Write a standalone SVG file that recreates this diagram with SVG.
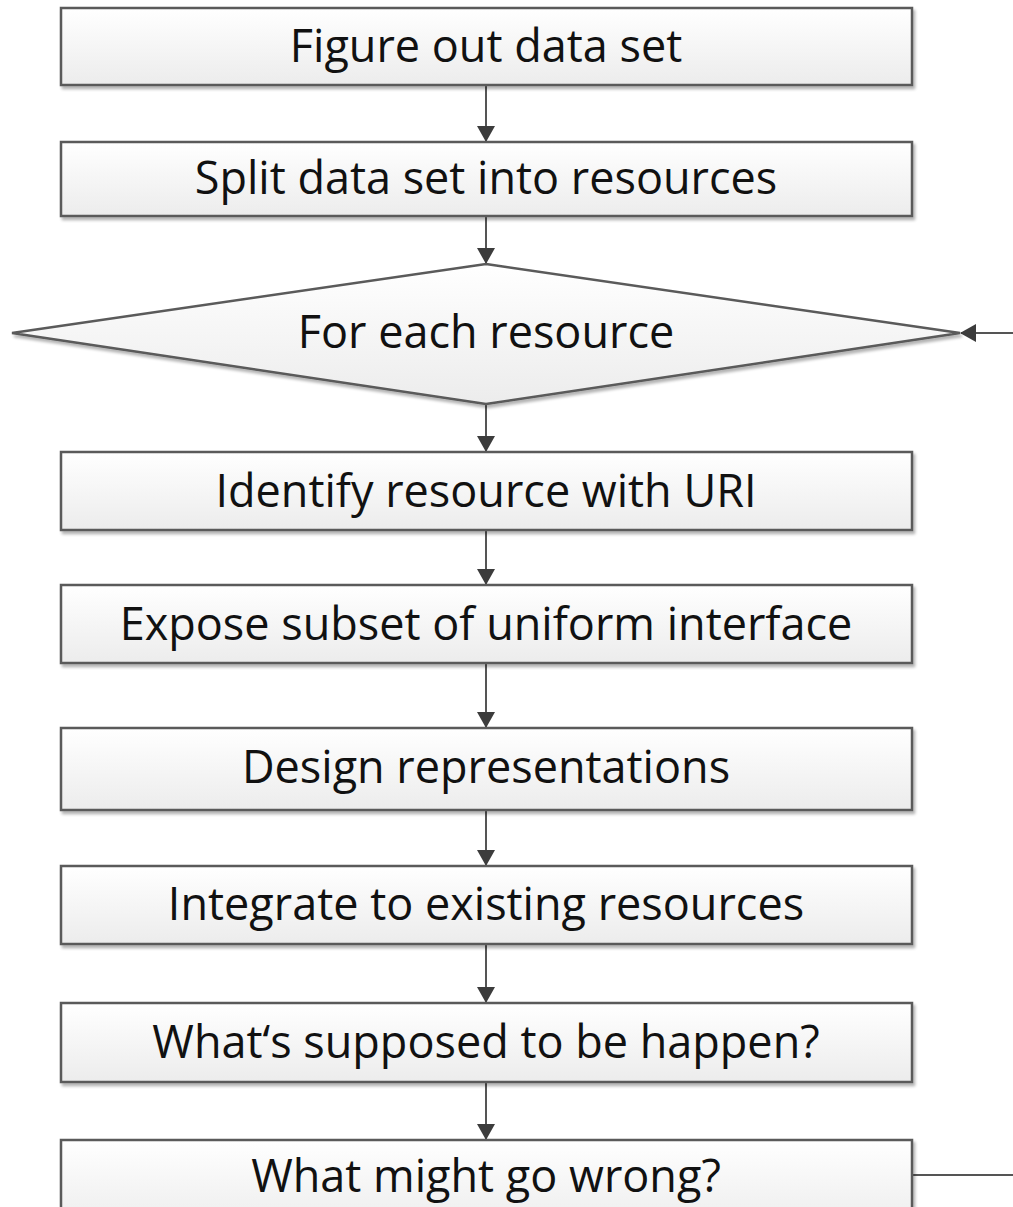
<svg xmlns="http://www.w3.org/2000/svg" width="1013" height="1207" viewBox="0 0 1013 1207">
<defs>
<linearGradient id="g" x1="0" y1="0" x2="0" y2="1">
<stop offset="0" stop-color="#ffffff"/>
<stop offset="1" stop-color="#ececec"/>
</linearGradient>
<filter id="sh" x="-5%" y="-20%" width="110%" height="150%">
<feGaussianBlur in="SourceAlpha" stdDeviation="1.5"/>
<feOffset dx="2" dy="3" result="b"/>
<feComponentTransfer><feFuncA type="linear" slope="0.3"/></feComponentTransfer>
<feMerge><feMergeNode/><feMergeNode in="SourceGraphic"/></feMerge>
</filter>
<marker id="ah" markerWidth="16" markerHeight="18" viewBox="0 0 16 18" refX="15" refY="9" orient="auto" markerUnits="userSpaceOnUse">
<path d="M0,0 L16,9 L0,18 Z" fill="#3c3c3c"/>
</marker>
</defs>
<style>
.box{fill:url(#g);stroke:#5a5a5a;stroke-width:2.5;filter:url(#sh)}
.t{font-family:"Open Sans","Liberation Sans",sans-serif;font-size:45px;fill:#111;text-anchor:middle}
.c{stroke:#555;stroke-width:2;fill:none}
</style>
<rect width="1013" height="1207" fill="#fff"/>
<g id="connectors">
<line class="c" x1="486" y1="86" x2="486" y2="141" marker-end="url(#ah)"/>
<line class="c" x1="486" y1="217" x2="486" y2="263" marker-end="url(#ah)"/>
<line class="c" x1="486" y1="404" x2="486" y2="451" marker-end="url(#ah)"/>
<line class="c" x1="486" y1="531" x2="486" y2="584" marker-end="url(#ah)"/>
<line class="c" x1="486" y1="664" x2="486" y2="727" marker-end="url(#ah)"/>
<line class="c" x1="486" y1="811" x2="486" y2="865" marker-end="url(#ah)"/>
<line class="c" x1="486" y1="945" x2="486" y2="1002" marker-end="url(#ah)"/>
<line class="c" x1="486" y1="1083" x2="486" y2="1139" marker-end="url(#ah)"/>
<line class="c" x1="912" y1="1175" x2="1013" y2="1175"/>
<line class="c" x1="1013" y1="333" x2="961" y2="333" marker-end="url(#ah)"/>
</g>
<g id="n1"><rect class="box" x="61" y="8" width="851" height="77"/><text class="t" x="486" y="62">Figure out data set</text></g>
<g id="n2"><rect class="box" x="61" y="142" width="851" height="74"/><text class="t" x="486" y="194">Split data set into resources</text></g>
<g id="n3"><polygon class="box" points="486,264 960,333 486,404 12,333"/><text class="t" x="486" y="348">For each resource</text></g>
<g id="n4"><rect class="box" x="61" y="452" width="851" height="78"/><text class="t" x="486" y="507">Identify resource with URI</text></g>
<g id="n5"><rect class="box" x="61" y="585" width="851" height="78"/><text class="t" x="486" y="640">Expose subset of uniform interface</text></g>
<g id="n6"><rect class="box" x="61" y="728" width="851" height="82"/><text class="t" x="486" y="783">Design representations</text></g>
<g id="n7"><rect class="box" x="61" y="866" width="851" height="78"/><text class="t" x="486" y="920">Integrate to existing resources</text></g>
<g id="n8"><rect class="box" x="61" y="1003" width="851" height="79"/><text class="t" x="486" y="1058">What‘s supposed to be happen?</text></g>
<g id="n9"><rect class="box" x="61" y="1140" width="851" height="90"/><text class="t" x="486" y="1192">What might go wrong?</text></g>
</svg>
